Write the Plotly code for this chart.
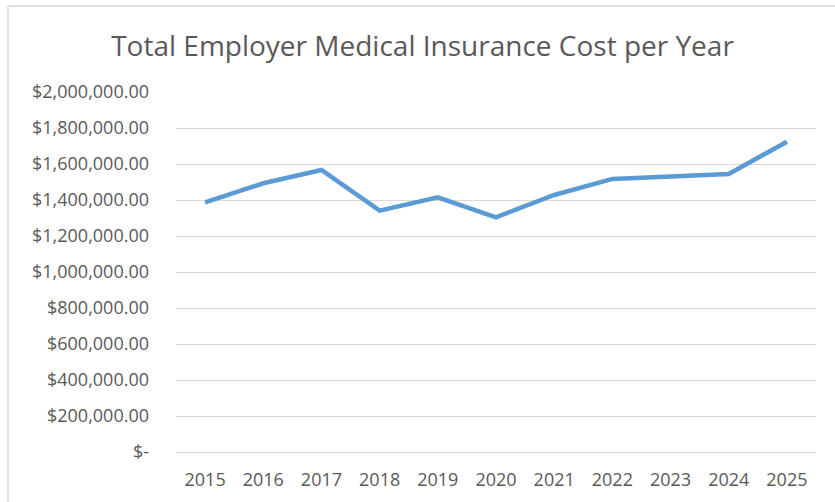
import plotly.graph_objects as go

years = ["2015", "2016", "2017", "2018", "2019", "2020", "2021", "2022", "2023", "2024", "2025"]
costs = [1387000, 1493000, 1567000, 1341000, 1415000, 1304000, 1428000, 1517000, 1530000, 1544000, 1724000]

y_tick_values = [0, 200000, 400000, 600000, 800000, 1000000, 1200000, 1400000, 1600000, 1800000, 2000000]
y_tick_labels = ["$-", "$200,000.00", "$400,000.00", "$600,000.00", "$800,000.00", "$1,000,000.00",
                 "$1,200,000.00", "$1,400,000.00", "$1,600,000.00", "$1,800,000.00", "$2,000,000.00"]

title_text = "Total Employer Medical Insurance Cost per Year"

FONT = "Open Sans"
TEXT_GREY = "#595959"
GRID_GREY = "#D9D9D9"

fig = go.Figure()
fig.add_trace(go.Scatter(
    x=years, y=costs, mode="lines",
    line=dict(color="#5B9BD5", width=4.5, shape="linear"),
    hoverinfo="x+y", showlegend=False,
))

W, H = 835, 502
L, R, T, B = 176, 19, 92, 50
pw, ph = W - L - R, H - T - B

def px_to_paper_x(px):
    return (px - L) / pw

def px_to_paper_y(py):
    return (H - B - py) / ph

fig.update_layout(
    width=W, height=H,
    margin=dict(l=L, r=R, t=T, b=B, pad=0),
    paper_bgcolor="white", plot_bgcolor="white",
    font=dict(family=FONT, color=TEXT_GREY, size=18),
    title=dict(text=title_text, x=0.506, xref="container", xanchor="center",
               y=1 - 46 / H, yanchor="middle", yref="container",
               font=dict(family=FONT, size=28, color=TEXT_GREY)),
    xaxis=dict(type="category", range=[-0.5, len(years) - 0.5],
               showgrid=False, showline=False, zeroline=False, ticks="",
               tickfont=dict(size=18, color=TEXT_GREY), ticklabelstandoff=15),
    yaxis=dict(range=[0, 2000000], tickvals=y_tick_values, ticktext=y_tick_labels,
               showgrid=True, gridcolor=GRID_GREY, gridwidth=1.3,
               zeroline=True, zerolinecolor=GRID_GREY, zerolinewidth=1.3,
               showline=False, ticks="",
               tickfont=dict(size=18, color=TEXT_GREY), ticklabelstandoff=26),
    shapes=[dict(type="rect", xref="paper", yref="paper",
                 x0=px_to_paper_x(8), x1=px_to_paper_x(845),
                 y0=px_to_paper_y(515), y1=px_to_paper_y(6),
                 line=dict(color=GRID_GREY, width=1.5), fillcolor="rgba(0,0,0,0)",
                 layer="below")],
)

fig.write_html("out.html")
